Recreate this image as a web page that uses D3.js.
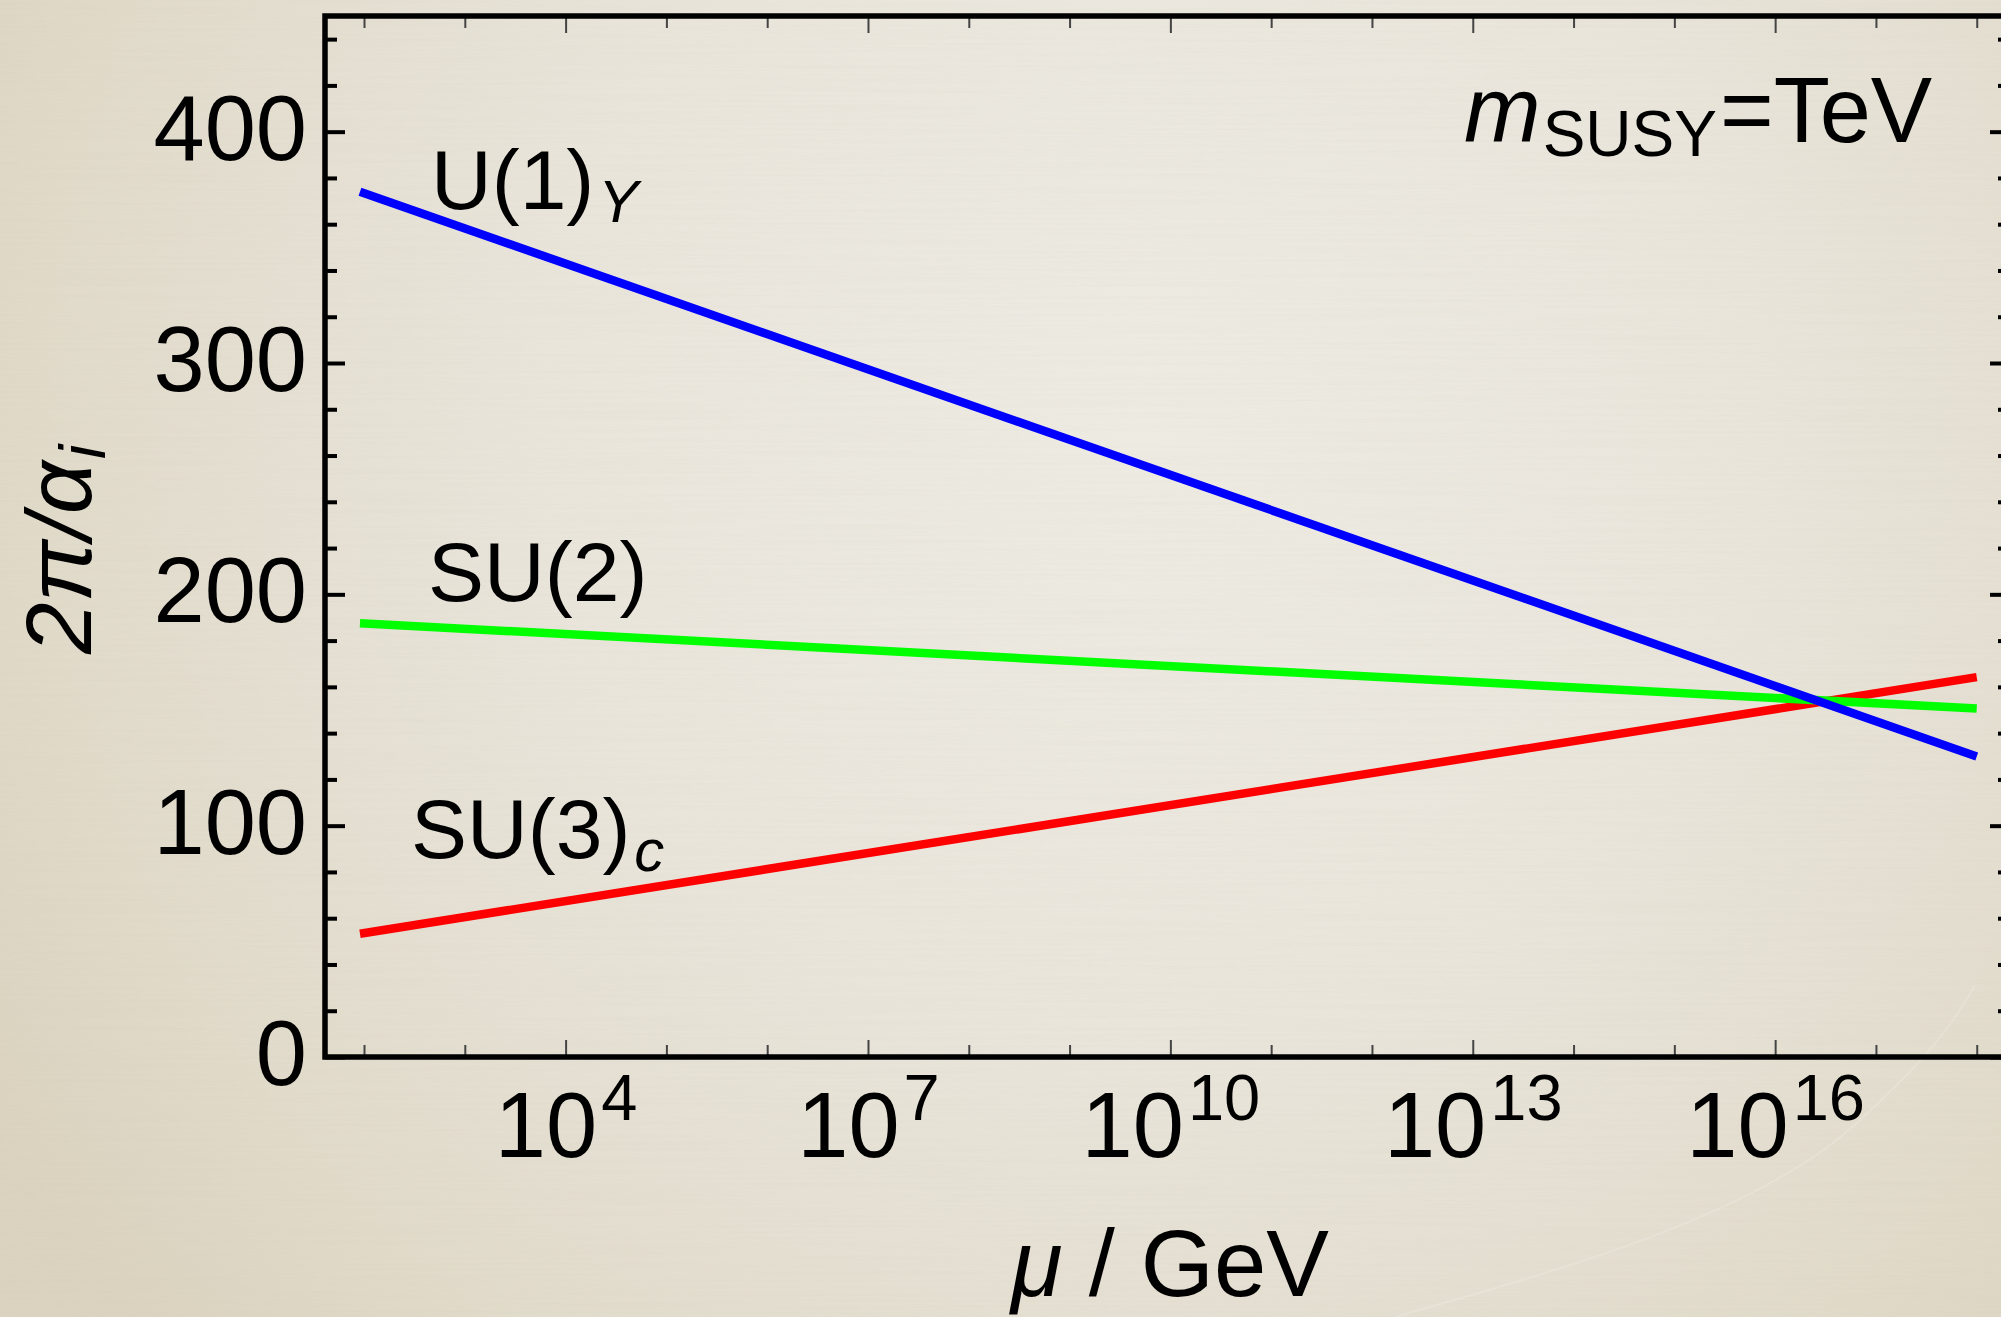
<!DOCTYPE html>
<html>
<head>
<meta charset="utf-8">
<script src="https://cdn.jsdelivr.net/npm/d3@7"></script>
<style>
  html, body { margin: 0; padding: 0; background: #e4dfd2; overflow: hidden; }
  svg text { font-family: "Liberation Sans", Arial, Helvetica, sans-serif; fill: #000; }
</style>
</head>
<body>
<svg id="chart" width="2001" height="1317"></svg>
<script>
// Renormalisation scale μ (GeV) at the two ends of each running curve
const muPoints = [91.19, 1e18];
// Inverse couplings 2π/α_i at those scales (MSSM running, m_SUSY = 1 TeV)
const u1Values  = [374.0, 129.9];
const su2Values = [187.5, 150.6];
const su3Values = [53.3, 164.2];

const seriesNames  = ["U(1)", "SU(2)", "SU(3)"];
const seriesSubs   = ["Y", "", "c"];
const seriesColors = ["#0000ff", "#00ff00", "#ff0000"];

const yMajorTicks = [0, 100, 200, 300, 400];
const xMajorExponents = [4, 7, 10, 13, 16];

const W = 2001, H = 1317;
const svg = d3.select("#chart");

// ---------- paper-like background ----------
const defs = svg.append("defs");
const grad = defs.append("radialGradient")
  .attr("id", "paper").attr("gradientUnits", "userSpaceOnUse")
  .attr("cx", 1150).attr("cy", 430).attr("r", 1350);
grad.append("stop").attr("offset", "0").attr("stop-color", "#eeebe3");
grad.append("stop").attr("offset", "0.45").attr("stop-color", "#e9e5db");
grad.append("stop").attr("offset", "0.8").attr("stop-color", "#e1dbcb");
grad.append("stop").attr("offset", "1").attr("stop-color", "#dbd3bf");

const streaks = defs.append("filter").attr("id", "streaks")
  .attr("x", 0).attr("y", 0).attr("width", 1).attr("height", 1);
streaks.append("feTurbulence").attr("type", "fractalNoise")
  .attr("baseFrequency", "0.004 0.35").attr("numOctaves", 2).attr("seed", 7);
streaks.append("feColorMatrix").attr("type", "matrix")
  .attr("values", "0 0 0 0 0.55  0 0 0 0 0.5  0 0 0 0 0.4  0 0 0 0.35 -0.12");

svg.append("rect").attr("width", W).attr("height", H).attr("fill", "url(#paper)");
svg.append("rect").attr("width", W).attr("height", H)
  .attr("filter", "url(#streaks)").attr("opacity", 0.35);

// faint crease in the paper at lower right
svg.append("path")
  .attr("d", "M1395,1317 C1560,1270 1760,1215 1860,1120 C1920,1065 1950,1030 1975,985")
  .attr("fill", "none").attr("stroke", "#f2efe7").attr("stroke-width", 2).attr("opacity", 0.3);

// ---------- scales ----------
const xScale = d3.scaleLog().domain([Math.pow(10, 1.613), Math.pow(10, 18.33)]).range([325, 2010]);
const yScale = d3.scaleLinear().domain([0, 450]).range([1057, 16]);
const [x0, x1] = xScale.range();
const [y0, y1] = yScale.range();

const allDecades = d3.range(2, 19).map(e => Math.pow(10, e));
const xMajor = xMajorExponents.map(e => Math.pow(10, e));
const xMinor = allDecades.filter(v => !xMajor.some(m => Math.abs(Math.log10(m) - Math.log10(v)) < 1e-9));
const yMinor = d3.range(0, 441, 20).filter(v => !yMajorTicks.includes(v));

// ---------- axes (ticks point into the frame) ----------
function styleTicks(g, width, color) {
  g.select(".domain").remove();
  g.selectAll(".tick line").attr("stroke", color).attr("stroke-width", width);
}

// left
svg.append("g").attr("transform", `translate(${x0},0)`)
  .call(d3.axisLeft(yScale).tickValues(yMinor).tickSize(-12).tickFormat(""))
  .call(g => { styleTicks(g, 4, "#000"); g.selectAll("text").remove(); });
const yAxisG = svg.append("g").attr("transform", `translate(${x0},0)`)
  .call(d3.axisLeft(yScale).tickValues(yMajorTicks).tickSize(-20).tickPadding(18).tickFormat(d3.format("d")));
styleTicks(yAxisG, 4, "#000");
yAxisG.selectAll("text")
  .attr("font-size", 92).attr("dy", "0.30em")
  .style("font-family", '"Liberation Sans", Arial, sans-serif').attr("fill", "#000");

// right
svg.append("g").attr("transform", `translate(${x1},0)`)
  .call(d3.axisRight(yScale).tickValues(yMinor).tickSize(-12).tickFormat(""))
  .call(g => { styleTicks(g, 4, "#000"); g.selectAll("text").remove(); });
svg.append("g").attr("transform", `translate(${x1},0)`)
  .call(d3.axisRight(yScale).tickValues(yMajorTicks).tickSize(-20).tickFormat(""))
  .call(g => { styleTicks(g, 4, "#000"); g.selectAll("text").remove(); });

// top
svg.append("g").attr("transform", `translate(0,${y1})`)
  .call(d3.axisTop(xScale).tickValues(xMinor).tickSize(-12).tickFormat(""))
  .call(g => { styleTicks(g, 2, "#444"); g.selectAll("text").remove(); });
svg.append("g").attr("transform", `translate(0,${y1})`)
  .call(d3.axisTop(xScale).tickValues(xMajor).tickSize(-17).tickFormat(""))
  .call(g => { styleTicks(g, 2, "#444"); g.selectAll("text").remove(); });

// bottom
svg.append("g").attr("transform", `translate(0,${y0})`)
  .call(d3.axisBottom(xScale).tickValues(xMinor).tickSize(-12).tickFormat(""))
  .call(g => { styleTicks(g, 2, "#444"); g.selectAll("text").remove(); });
const xAxisG = svg.append("g").attr("transform", `translate(0,${y0})`)
  .call(d3.axisBottom(xScale).tickValues(xMajor).tickSize(-17).tickFormat(""));
styleTicks(xAxisG, 2, "#444");
xAxisG.selectAll(".tick text").each(function(d) {
  const t = d3.select(this)
    .attr("y", 100).attr("dy", 0)
    .attr("text-anchor", "middle")
    .attr("font-size", 92)
    .style("font-family", '"Liberation Sans", Arial, sans-serif')
    .attr("fill", "#000");
  t.text(null);
  t.append("tspan").text("10");
  t.append("tspan").attr("dx", 4).attr("dy", -37).attr("font-size", 65)
    .text(String(Math.round(Math.log10(d))));
});

// ---------- curves ----------
const line = d3.line().x(d => xScale(d.mu)).y(d => yScale(d.v));
const series = [
  { name: seriesNames[0], color: seriesColors[0], values: u1Values },
  { name: seriesNames[1], color: seriesColors[1], values: su2Values },
  { name: seriesNames[2], color: seriesColors[2], values: su3Values }
];
// red first, then green, blue on top
[2, 1, 0].forEach(i => {
  const s = series[i];
  svg.append("path")
    .datum(muPoints.map((mu, k) => ({ mu, v: s.values[k] })))
    .attr("d", line)
    .attr("fill", "none")
    .attr("stroke", s.color)
    .attr("stroke-width", 8.5)
    .attr("stroke-linecap", "butt");
});

// ---------- frame ----------
svg.append("rect")
  .attr("x", x0).attr("y", y1)
  .attr("width", x1 - x0).attr("height", y0 - y1)
  .attr("fill", "none").attr("stroke", "#000").attr("stroke-width", 5.5);

// ---------- curve labels ----------
const labelPos = [
  { x: 431, y: 209 },
  { x: 428, y: 601 },
  { x: 411, y: 858 }
];
series.forEach((s, i) => {
  const t = svg.append("text")
    .attr("x", labelPos[i].x).attr("y", labelPos[i].y)
    .attr("font-size", 84);
  t.append("tspan").text(s.name);
  if (seriesSubs[i]) {
    t.append("tspan").attr("dx", 4).attr("dy", 13)
      .attr("font-size", 60).attr("font-style", "italic")
      .text(seriesSubs[i]);
  }
});

// m_SUSY = TeV annotation
const ann = svg.append("text").attr("x", 1464).attr("y", 142).attr("font-size", 92);
ann.append("tspan").attr("font-style", "italic").text("m");
ann.append("tspan").attr("dy", 14).attr("font-size", 64).attr("dx", 2).text("SUSY");
ann.append("tspan").attr("dy", -14).attr("dx", 3).text("=TeV");

// ---------- axis titles ----------
const xt = svg.append("text")
  .attr("x", 1170).attr("y", 1296)
  .attr("text-anchor", "middle").attr("font-size", 94);
xt.append("tspan").attr("font-style", "italic").text("μ");
xt.append("tspan").text(" / GeV");

const yt = svg.append("text")
  .attr("transform", "translate(91,654) rotate(-90)")
  .attr("font-size", 93).attr("font-style", "italic");
yt.append("tspan").text("2π/α");
yt.append("tspan").attr("dy", 14).attr("dx", 2).attr("font-size", 64).text("i");
</script>
</body>
</html>
